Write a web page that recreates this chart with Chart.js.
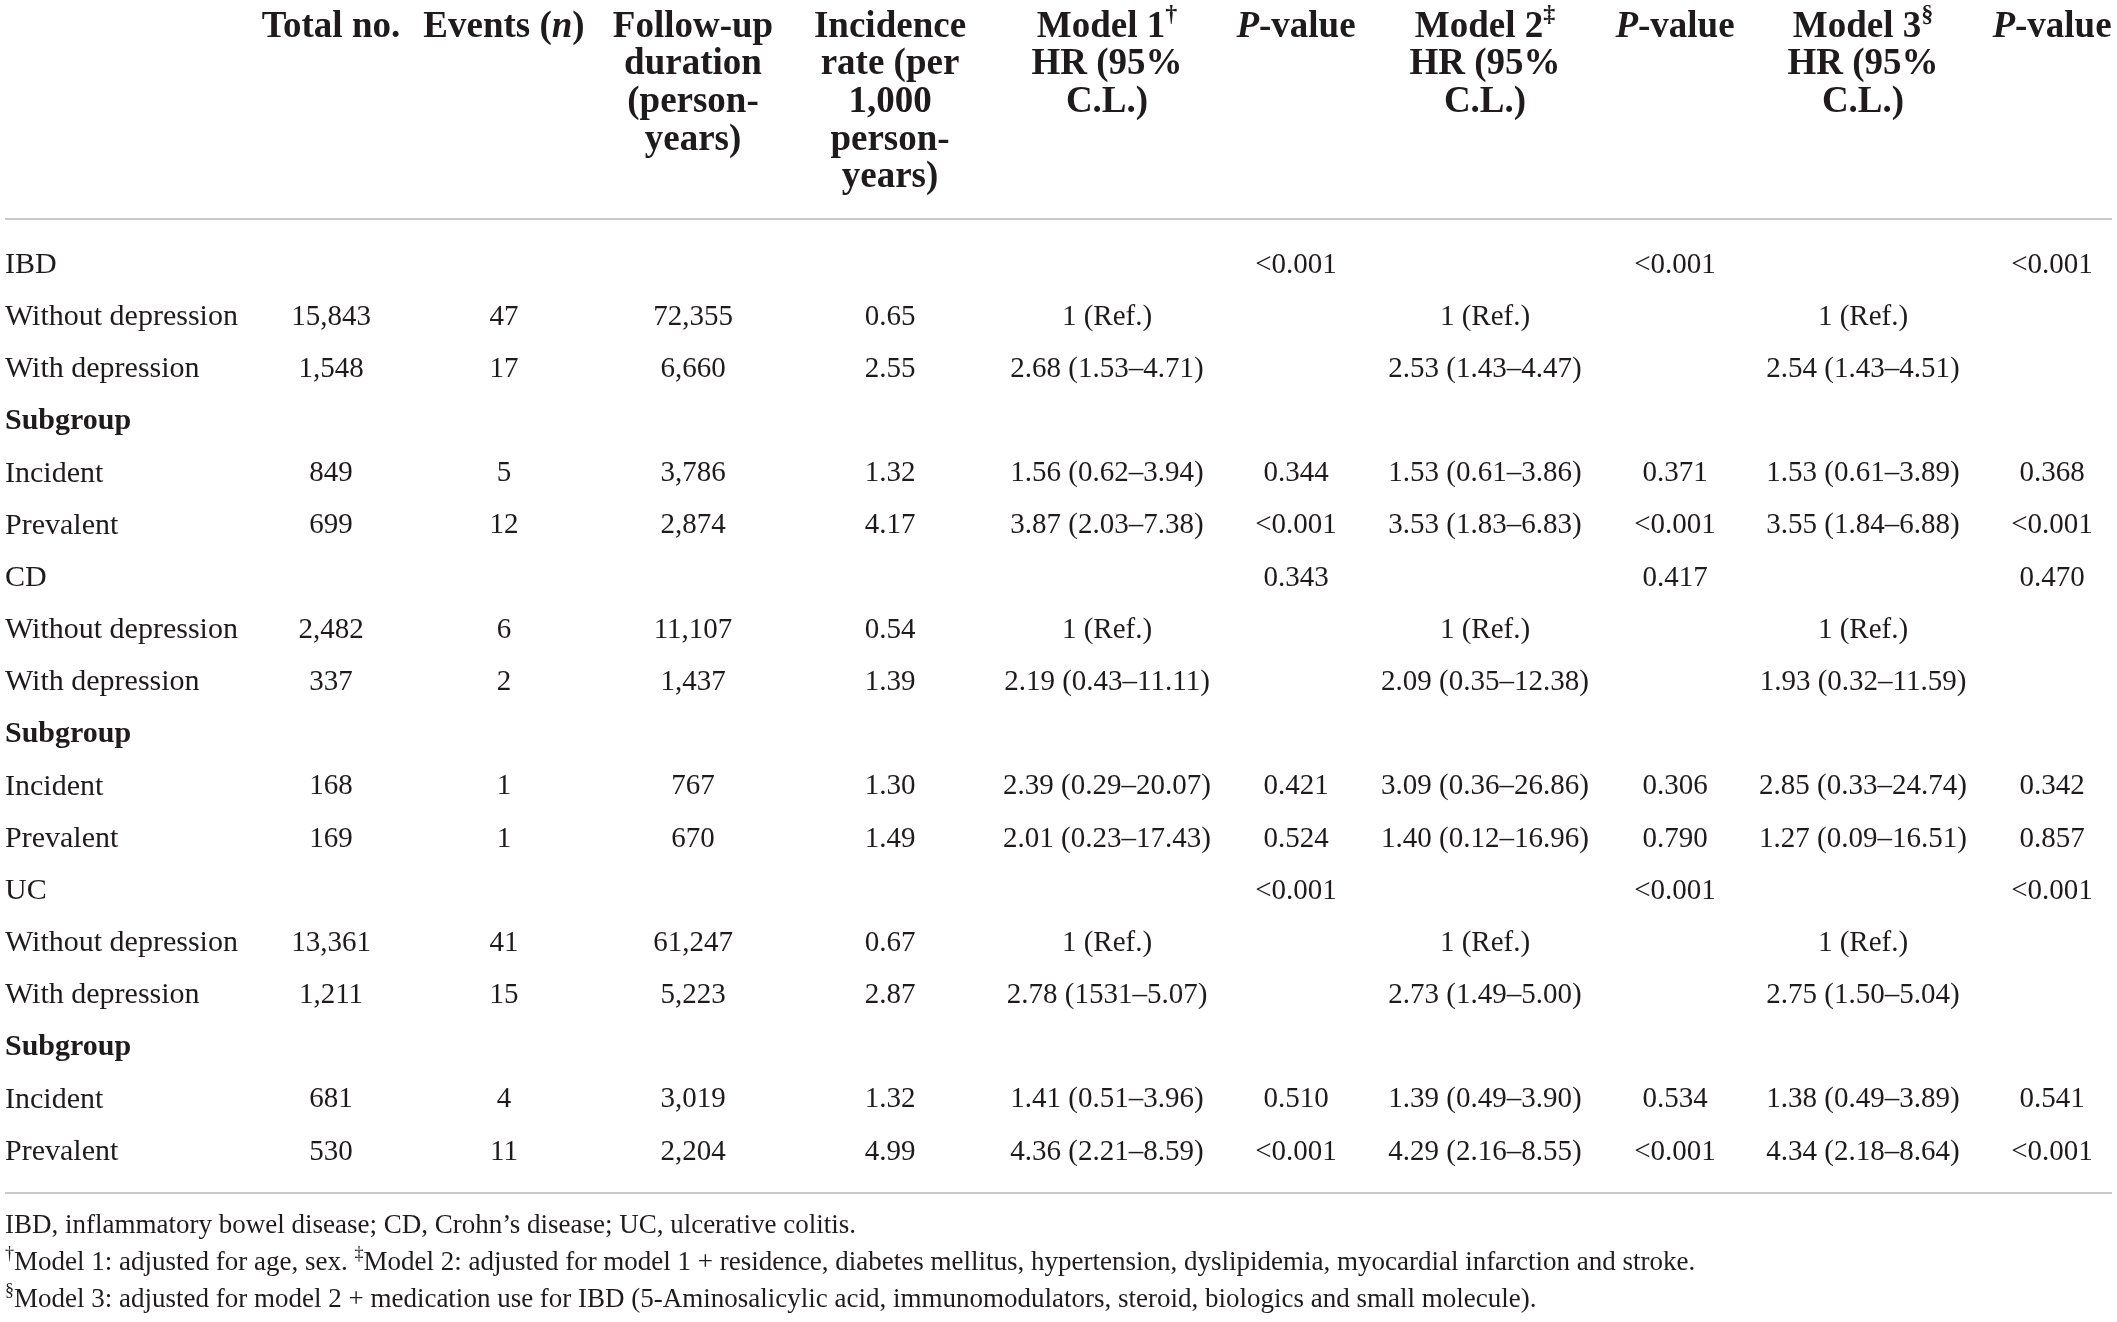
<!DOCTYPE html>
<html>
<head>
<meta charset="utf-8">
<script src="https://cdn.jsdelivr.net/npm/chart.js@4.4.0/dist/chart.umd.min.js"></script>
<style>
  html, body { margin: 0; padding: 0; background: #fff; }
  #wrap { width: 2117px; height: 1322px; }
</style>
</head>
<body>
<div id="wrap"><canvas id="tableChart"></canvas></div>
<script>
// Dados da tabela (linhas)
const rowLabels = ['IBD', 'Without depression', 'With depression', 'Subgroup', 'Incident', 'Prevalent',
                   'CD', 'Without depression', 'With depression', 'Subgroup', 'Incident', 'Prevalent',
                   'UC', 'Without depression', 'With depression', 'Subgroup', 'Incident', 'Prevalent'];
const boldRows = ['Subgroup'];

// Colunas de valores
const totalNo   = ['', '15,843', '1,548', '', '849', '699', '', '2,482', '337', '', '168', '169', '', '13,361', '1,211', '', '681', '530'];
const events    = ['', '47', '17', '', '5', '12', '', '6', '2', '', '1', '1', '', '41', '15', '', '4', '11'];
const followUp  = ['', '72,355', '6,660', '', '3,786', '2,874', '', '11,107', '1,437', '', '767', '670', '', '61,247', '5,223', '', '3,019', '2,204'];
const incidence = ['', '0.65', '2.55', '', '1.32', '4.17', '', '0.54', '1.39', '', '1.30', '1.49', '', '0.67', '2.87', '', '1.32', '4.99'];
const model1    = ['', '1 (Ref.)', '2.68 (1.53–4.71)', '', '1.56 (0.62–3.94)', '3.87 (2.03–7.38)', '', '1 (Ref.)', '2.19 (0.43–11.11)', '',
                   '2.39 (0.29–20.07)', '2.01 (0.23–17.43)', '', '1 (Ref.)', '2.78 (1531–5.07)', '', '1.41 (0.51–3.96)', '4.36 (2.21–8.59)'];
const pValue1   = ['<0.001', '', '', '', '0.344', '<0.001', '0.343', '', '', '', '0.421', '0.524', '<0.001', '', '', '', '0.510', '<0.001'];
const model2    = ['', '1 (Ref.)', '2.53 (1.43–4.47)', '', '1.53 (0.61–3.86)', '3.53 (1.83–6.83)', '', '1 (Ref.)', '2.09 (0.35–12.38)', '',
                   '3.09 (0.36–26.86)', '1.40 (0.12–16.96)', '', '1 (Ref.)', '2.73 (1.49–5.00)', '', '1.39 (0.49–3.90)', '4.29 (2.16–8.55)'];
const pValue2   = ['<0.001', '', '', '', '0.371', '<0.001', '0.417', '', '', '', '0.306', '0.790', '<0.001', '', '', '', '0.534', '<0.001'];
const model3    = ['', '1 (Ref.)', '2.54 (1.43–4.51)', '', '1.53 (0.61–3.89)', '3.55 (1.84–6.88)', '', '1 (Ref.)', '1.93 (0.32–11.59)', '',
                   '2.85 (0.33–24.74)', '1.27 (0.09–16.51)', '', '1 (Ref.)', '2.75 (1.50–5.04)', '', '1.38 (0.49–3.89)', '4.34 (2.18–8.64)'];
const pValue3   = ['<0.001', '', '', '', '0.368', '<0.001', '0.470', '', '', '', '0.342', '0.857', '<0.001', '', '', '', '0.541', '<0.001'];

// Cabeçalhos: cada linha é texto ou lista de segmentos {t, i (itálico), sup}
const headers = [
    ['Total no.'],
    [[{ t: 'Events (' }, { t: 'n', i: true }, { t: ')' }]],
    ['Follow-up', 'duration', '(person-', 'years)'],
    ['Incidence', 'rate (per', '1,000', 'person-', 'years)'],
    [[{ t: 'Model 1' }, { t: '†', sup: true }], 'HR (95%', 'C.L.)'],
    [[{ t: 'P', i: true }, { t: '-value' }]],
    [[{ t: 'Model 2' }, { t: '‡', sup: true }], 'HR (95%', 'C.L.)'],
    [[{ t: 'P', i: true }, { t: '-value' }]],
    [[{ t: 'Model 3' }, { t: '§', sup: true }], 'HR (95%', 'C.L.)'],
    [[{ t: 'P', i: true }, { t: '-value' }]]
];

const footnotes = [
    [{ t: 'IBD, inflammatory bowel disease; CD, Crohn’s disease; UC, ulcerative colitis.' }],
    [{ t: '†', sup: true }, { t: 'Model 1: adjusted for age, sex. ' }, { t: '‡', sup: true },
     { t: 'Model 2: adjusted for model 1 + residence, diabetes mellitus, hypertension, dyslipidemia, myocardial infarction and stroke.' }],
    [{ t: '§', sup: true },
     { t: 'Model 3: adjusted for model 2 + medication use for IBD (5-Aminosalicylic acid, immunomodulators, steroid, biologics and small molecule).' }]
];

const valueColumns = [totalNo, events, followUp, incidence, model1, pValue1, model2, pValue2, model3, pValue3];

// Layout (posições em px)
const W = 2117, H = 1322;
const colCenters = [331, 504, 693, 890, 1107, 1296, 1485, 1675, 1863, 2052];
const labelX = 5;
const headerLineY = [27, 64, 102, 140, 177];
const footY = [1226, 1263, 1300];
const ruleTop = 219, ruleBottom = 1193;
const INK = '#1f1b1c';
const FONT = '"Liberation Serif", "DejaVu Serif", serif';

function fontStr(size, bold, italic) {
    return (italic ? 'italic ' : '') + (bold ? 'bold ' : '') + size + 'px ' + FONT;
}

// Desenha texto com segmentos (itálico, sobrescrito)
function drawRich(ctx, segs, x, y, size, bold, align) {
    if (typeof segs === 'string') segs = [{ t: segs }];
    const parts = segs.map(s => {
        const sz = s.sup ? Math.round(size * 0.65) : size;
        ctx.font = fontStr(sz, bold, s.i);
        return { s, sz, w: ctx.measureText(s.t).width };
    });
    const total = parts.reduce((a, p) => a + p.w, 0);
    let cx = align === 'center' ? x - total / 2 : x;
    ctx.textAlign = 'left';
    ctx.textBaseline = 'middle';
    parts.forEach(p => {
        ctx.font = fontStr(p.sz, bold, p.s.i);
        ctx.fillText(p.s.t, cx, p.s.sup ? y - size * 0.32 : y);
        cx += p.w;
    });
}

const tablePlugin = {
    id: 'tablePlugin',
    afterDraw(chart) {
        const ctx = chart.ctx;
        const xs = chart.scales.x, ys = chart.scales.y;
        ctx.save();
        ctx.fillStyle = INK;

        // Cabeçalho
        headers.forEach((lines, c) => {
            lines.forEach((ln, k) => drawRich(ctx, ln, xs.getPixelForValue(colCenters[c]), headerLineY[k], 37, true, 'center'));
        });

        // Regras horizontais
        ctx.strokeStyle = '#c9c9c9';
        ctx.lineWidth = 2;
        [ruleTop, ruleBottom].forEach(y => {
            ctx.beginPath();
            ctx.moveTo(5, y);
            ctx.lineTo(W - 5, y);
            ctx.stroke();
        });

        // Rótulos das linhas
        rowLabels.forEach((lab, r) => {
            drawRich(ctx, lab, xs.getPixelForValue(labelX), ys.getPixelForValue(r), 30, boldRows.includes(lab), 'left');
        });

        // Células a partir dos pontos do dataset
        chart.data.datasets.forEach((ds, di) => {
            const meta = chart.getDatasetMeta(di);
            meta.data.forEach((pt, j) => {
                drawRich(ctx, ds.data[j].label, pt.x, pt.y, 29, false, 'center');
            });
        });

        // Notas de rodapé
        footnotes.forEach((segs, k) => drawRich(ctx, segs, 5, footY[k], 27, false, 'left'));
        ctx.restore();
    }
};

const datasets = valueColumns.map((col, c) => ({
    data: col.map((v, r) => ({ x: colCenters[c], y: r, label: v })).filter(p => p.label !== ''),
    pointRadius: 0,
    pointHoverRadius: 0,
    showLine: false
}));

new Chart(document.getElementById('tableChart'), {
    type: 'scatter',
    data: { datasets },
    options: {
        responsive: true,
        maintainAspectRatio: false,
        animation: false,
        layout: { padding: { top: 265, bottom: H - 1152, left: 0, right: 0 } },
        plugins: { legend: { display: false }, tooltip: { enabled: false } },
        scales: {
            x: { type: 'linear', min: 0, max: W, display: false },
            y: { type: 'linear', min: 0, max: rowLabels.length - 1, reverse: true, display: false }
        }
    },
    plugins: [tablePlugin]
});
</script>
</body>
</html>
